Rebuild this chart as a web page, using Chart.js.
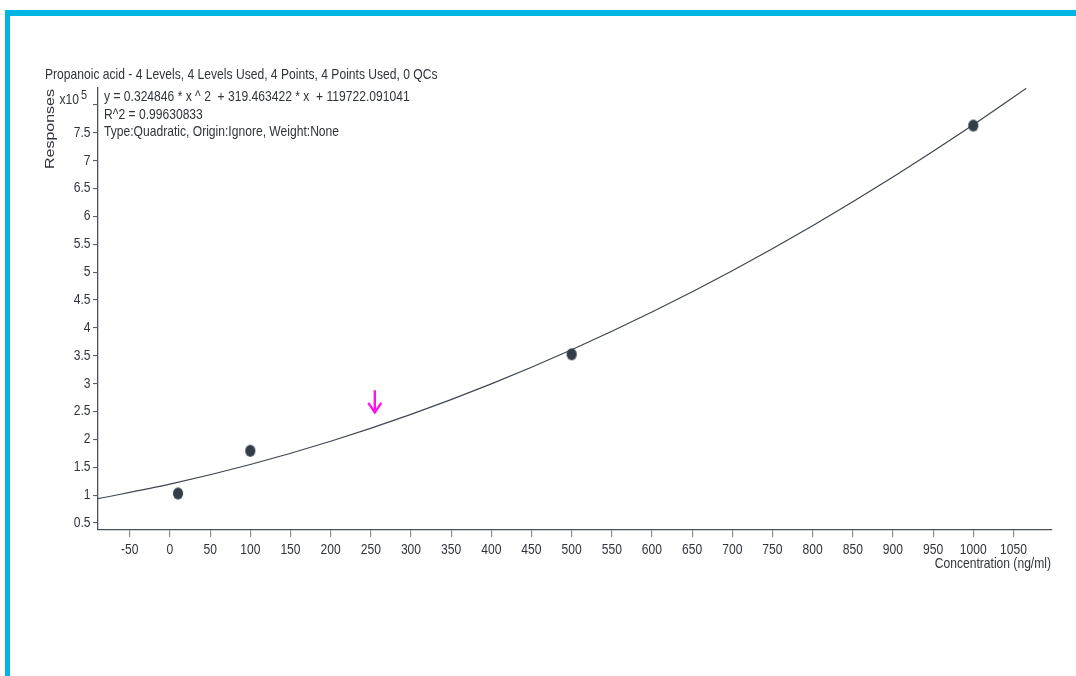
<!DOCTYPE html>
<html><head><meta charset="utf-8">
<script src="https://cdn.jsdelivr.net/npm/chart.js@4/dist/chart.umd.min.js"></script>
<style>
html,body{margin:0;padding:0;background:#fff;}
#wrap{position:relative;width:1076px;height:676px;overflow:hidden;background:#fff;}
#frame{position:absolute;left:5px;top:10px;width:1071px;height:666px;border-top:6px solid #00b5e2;border-left:5px solid #00b5e2;box-sizing:border-box;}
canvas{position:absolute;left:0;top:0;}
</style></head><body>
<div id="wrap"><div id="frame"></div><canvas id="c" width="1076" height="676"></canvas></div>
<script>
// ---- data ----
const concentrations = [10, 100, 500, 1000];
const responses = [103000, 179500, 352600, 762700];
const curveX = [-90, 0, 100, 200, 300, 400, 500, 600, 700, 800, 900, 1000, 1066];
const curveY = [93600, 119700, 154900, 196600, 244800, 299500, 360700, 428300, 502500, 583200, 670400, 764000, 829400];
const xTickValues = [-50, 0, 50, 100, 150, 200, 250, 300, 350, 400, 450, 500, 550, 600, 650, 700, 750, 800, 850, 900, 950, 1000, 1050];
const yTickValues = [0.5, 1, 1.5, 2, 2.5, 3, 3.5, 4, 4.5, 5, 5.5, 6, 6.5, 7, 7.5, 8];
const yExponentTick = 8;
const yScaleFactor = 100000;
const arrowX = [255];
const arrowYTip = [247500];
const arrowYTail = [288000];
const titleText = 'Propanoic acid - 4 Levels, 4 Levels Used, 4 Points, 4 Points Used, 0 QCs';
const infoLines = ['y = 0.324846 * x ^ 2  + 319.463422 * x  + 119722.091041', 'R^2 = 0.99630833', 'Type:Quadratic, Origin:Ignore, Weight:None'];
const xAxisTitle = 'Concentration (ng/ml)';
const yAxisTitle = 'Responses';

const FONT_FAMILY = "'Liberation Sans', Arial, sans-serif";
const FONT_SIZE = 14.5;
const SQUEEZE = 0.834;
const TEXT = '#30353b';
const AXIS = '#4a5058';

function drawText(ctx, text, x, y, align, size) {
  ctx.save();
  ctx.font = (size || FONT_SIZE) + 'px ' + FONT_FAMILY;
  ctx.textAlign = align;
  ctx.textBaseline = 'middle';
  ctx.translate(x, y);
  ctx.scale(SQUEEZE, 1);
  ctx.fillText(text, 0, 0);
  ctx.restore();
}

// elliptic marker (slightly taller than wide, as in the reference)
const dot = document.createElement('canvas');
dot.width = 14; dot.height = 16;
(function () {
  const g = dot.getContext('2d');
  g.fillStyle = '#333d49';
  g.beginPath();
  g.ellipse(7, 8, 5.1, 6.1, 0, 0, Math.PI * 2);
  g.fill();
})();

const textPlugin = {
  id: 'texts',
  afterDraw(chart) {
    const ctx = chart.ctx;
    const xs = chart.scales.x, ys = chart.scales.y;
    ctx.save();
    ctx.fillStyle = TEXT;
    drawText(ctx, titleText, 45, 75, 'left');
    infoLines.forEach((t, i) => drawText(ctx, t, 104, 97 + i * 17.5, 'left'));
    // y tick labels
    ys.ticks.forEach(t => {
      const v = t.value / yScaleFactor;
      const py = ys.getPixelForValue(t.value);
      if (v === yExponentTick) {
        drawText(ctx, 'x10', 79, py - 5, 'right');
        drawText(ctx, '5', 81, py - 9, 'left', 13);
      } else {
        drawText(ctx, String(v), 90.5, py, 'right');
      }
    });
    // x tick labels
    xs.ticks.forEach(t => {
      drawText(ctx, String(t.value), xs.getPixelForValue(t.value), 549.5, 'center');
    });
    // axis titles
    drawText(ctx, xAxisTitle, 1051, 564, 'right');
    ctx.save();
    ctx.translate(50, 129);
    ctx.rotate(-Math.PI / 2);
    ctx.scale(1, SQUEEZE);
    ctx.font = '16px ' + FONT_FAMILY;
    ctx.textAlign = 'center';
    ctx.textBaseline = 'middle';
    ctx.fillText(yAxisTitle, 0, 0);
    ctx.restore();
    // magenta arrow
    arrowX.forEach((ax, i) => {
      const px = xs.getPixelForValue(ax);
      const pTip = ys.getPixelForValue(arrowYTip[i]);
      const pTail = ys.getPixelForValue(arrowYTail[i]);
      ctx.strokeStyle = '#ff10f0';
      ctx.lineWidth = 2.4;
      ctx.lineCap = 'butt';
      ctx.beginPath();
      ctx.moveTo(px, pTail);
      ctx.lineTo(px, pTip);
      ctx.stroke();
      ctx.beginPath();
      ctx.moveTo(px - 6.5, pTip - 10);
      ctx.lineTo(px, pTip - 0.5);
      ctx.lineTo(px + 6.5, pTip - 10);
      ctx.stroke();
    });
    ctx.restore();
  }
};

new Chart(document.getElementById('c'), {
  type: 'scatter',
  data: {
    datasets: [
      {
        label: 'Calibration points',
        data: concentrations.map((c, i) => ({x: c, y: responses[i]})),
        pointStyle: dot,
        backgroundColor: '#333d49',
        borderColor: '#333d49',
        pointRadius: 6,
        order: 0
      },
      {
        label: 'Fit',
        data: curveX.map((c, i) => ({x: c, y: curveY[i]})),
        showLine: true,
        borderColor: '#3d4550',
        borderWidth: 1.2,
        pointRadius: 0,
        cubicInterpolationMode: 'monotone',
        fill: false,
        order: 1
      }
    ]
  },
  options: {
    responsive: false,
    animation: false,
    events: [],
    layout: {padding: {left: 50, top: 88, right: 24, bottom: 106}},
    plugins: {legend: {display: false}, tooltip: {enabled: false}, title: {display: false}},
    scales: {
      x: {
        type: 'linear',
        min: -89.6,
        max: 1098,
        afterBuildTicks: s => { s.ticks = xTickValues.map(v => ({value: v})); },
        afterFit: s => { s.height = 40; },
        grid: {display: true, drawOnChartArea: false, drawTicks: true, tickLength: 7, color: '#8a8f96', lineWidth: 1.2},
        border: {display: true, color: AXIS, width: 1.3},
        ticks: {display: false}
      },
      y: {
        type: 'linear',
        min: 37500,
        max: 830000,
        afterBuildTicks: s => { s.ticks = yTickValues.map(v => ({value: v * yScaleFactor})); },
        afterFit: s => { s.width = 48; },
        grid: {display: true, drawOnChartArea: false, drawTicks: true, tickLength: 5, color: '#5a6068', lineWidth: 1.1},
        border: {display: true, color: AXIS, width: 1.3},
        ticks: {display: false}
      }
    }
  },
  plugins: [textPlugin]
});
</script>
</body></html>
